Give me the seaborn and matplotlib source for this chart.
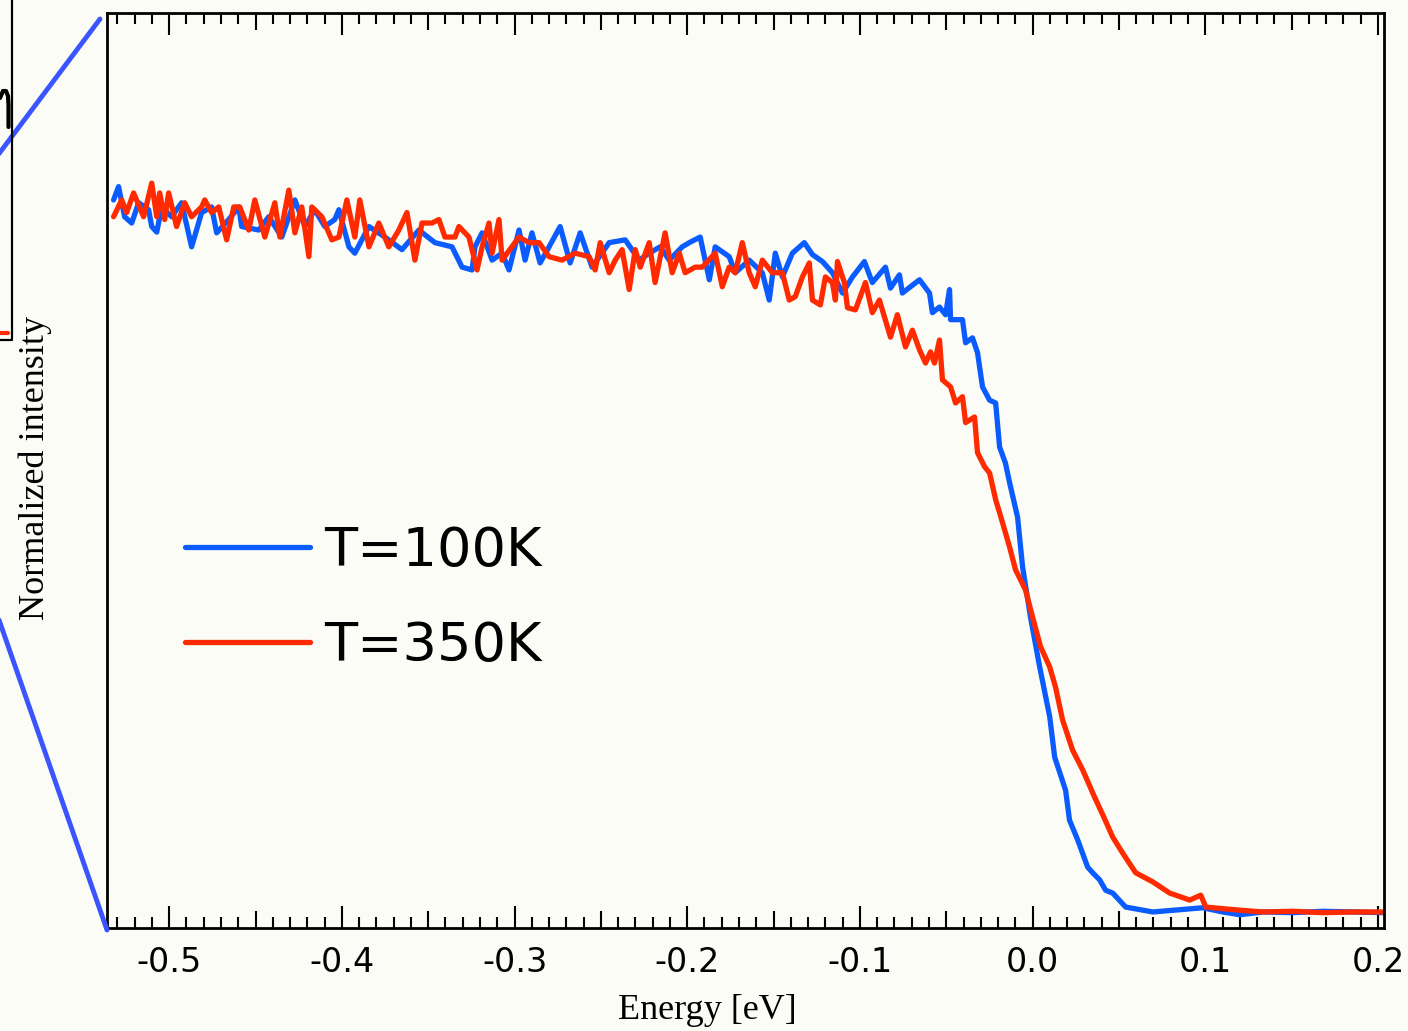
import numpy as np
import pandas as pd
import matplotlib
matplotlib.use("Agg")
import matplotlib.pyplot as plt
from matplotlib.lines import Line2D
from matplotlib.ticker import MultipleLocator, FuncFormatter
import seaborn as sns

# ---------------- data ----------------
energy_100K = [-0.5322, -0.5293, -0.5258, -0.5217, -0.5177, -0.5119, -0.5101, -0.5072, -0.5043, -0.4986,
               -0.4928, -0.4870, -0.4812, -0.4754, -0.4725, -0.4655, -0.4597, -0.4580, -0.4481, -0.4423,
               -0.4348, -0.4272, -0.4214, -0.4157, -0.4099, -0.4041, -0.4017, -0.3959, -0.3925, -0.3843,
               -0.3751, -0.3652, -0.3554, -0.3461, -0.3362, -0.3304, -0.3246, -0.3229, -0.3188, -0.3130,
               -0.3072, -0.3032, -0.2974, -0.2939, -0.2899, -0.2852, -0.2800, -0.2736, -0.2678, -0.2620,
               -0.2551, -0.2452, -0.2359, -0.2278, -0.2220, -0.2157, -0.2104, -0.2029, -0.1988, -0.1925,
               -0.1872, -0.1838, -0.1757, -0.1722, -0.1641, -0.1565, -0.1525, -0.1490, -0.1449, -0.1391,
               -0.1322, -0.1275, -0.1217, -0.1159, -0.1101, -0.1043, -0.0974, -0.0928, -0.0852, -0.0823,
               -0.0771, -0.0754, -0.0655, -0.0597, -0.0580, -0.0539, -0.0504, -0.0481, -0.0475, -0.0406,
               -0.0388, -0.0348, -0.0319, -0.0290, -0.0249, -0.0214, -0.0191, -0.0157, -0.0133, -0.0087,
               -0.0058, -0.0012, 0.0041, 0.0099, 0.0128, 0.0191, 0.0214, 0.0261, 0.0319, 0.0348,
               0.0388, 0.0423, 0.0464, 0.0539, 0.0696, 0.0841, 0.0986, 0.1101, 0.1200, 0.1333,
               0.1507, 0.1681, 0.1855, 0.2029]
intensity_100K = [1.017, 1.036, 0.993, 0.984, 1.013, 1.003, 0.979, 0.971, 1.007, 0.993,
                  1.013, 0.950, 0.999, 1.007, 0.970, 0.989, 1.007, 0.979, 0.974, 0.993,
                  0.964, 1.017, 0.979, 1.003, 0.979, 0.989, 1.003, 0.950, 0.941, 0.979,
                  0.964, 0.946, 0.974, 0.956, 0.950, 0.921, 0.917, 0.950, 0.970, 0.931,
                  0.941, 0.917, 0.974, 0.931, 0.970, 0.927, 0.950, 0.979, 0.927, 0.970,
                  0.921, 0.956, 0.960, 0.931, 0.941, 0.950, 0.931, 0.950, 0.956, 0.964,
                  0.903, 0.950, 0.936, 0.913, 0.931, 0.913, 0.874, 0.941, 0.907, 0.941,
                  0.956, 0.939, 0.929, 0.913, 0.884, 0.907, 0.929, 0.899, 0.921, 0.891,
                  0.910, 0.884, 0.903, 0.884, 0.856, 0.864, 0.853, 0.889, 0.846, 0.846,
                  0.813, 0.820, 0.799, 0.750, 0.731, 0.727, 0.664, 0.641, 0.613, 0.564,
                  0.493, 0.421, 0.350, 0.279, 0.221, 0.174, 0.131, 0.103, 0.064, 0.056,
                  0.046, 0.031, 0.027, 0.007, 0.000, 0.003, 0.006, 0.000, -0.004, 0.000,
                  -0.001, 0.001, 0.000, -0.001]

energy_350K = [-0.5322, -0.5275, -0.5246, -0.5206, -0.5148, -0.5101, -0.5072, -0.5055, -0.5026, -0.5003,
               -0.4957, -0.4910, -0.4870, -0.4812, -0.4794, -0.4754, -0.4713, -0.4667, -0.4626, -0.4591,
               -0.4539, -0.4504, -0.4446, -0.4388, -0.4359, -0.4307, -0.4272, -0.4232, -0.4191, -0.4174,
               -0.4116, -0.4058, -0.4017, -0.3971, -0.3925, -0.3896, -0.3843, -0.3786, -0.3728, -0.3670,
               -0.3623, -0.3577, -0.3536, -0.3478, -0.3438, -0.3403, -0.3345, -0.3322, -0.3264, -0.3217,
               -0.3188, -0.3148, -0.3130, -0.3090, -0.3072, -0.2974, -0.2916, -0.2858, -0.2800, -0.2725,
               -0.2649, -0.2568, -0.2533, -0.2504, -0.2452, -0.2417, -0.2377, -0.2336, -0.2301, -0.2272,
               -0.2220, -0.2186, -0.2128, -0.2087, -0.2046, -0.2012, -0.1954, -0.1913, -0.1838, -0.1797,
               -0.1757, -0.1722, -0.1681, -0.1641, -0.1606, -0.1565, -0.1507, -0.1449, -0.1409, -0.1374,
               -0.1333, -0.1293, -0.1275, -0.1229, -0.1200, -0.1159, -0.1142, -0.1130, -0.1090, -0.1072,
               -0.1026, -0.0968, -0.0928, -0.0887, -0.0823, -0.0783, -0.0736, -0.0696, -0.0655, -0.0620,
               -0.0591, -0.0568, -0.0539, -0.0522, -0.0475, -0.0446, -0.0406, -0.0388, -0.0336, -0.0319,
               -0.0278, -0.0249, -0.0214, -0.0174, -0.0133, -0.0099, -0.0041, 0.0000, 0.0046, 0.0099,
               0.0133, 0.0174, 0.0232, 0.0290, 0.0359, 0.0406, 0.0446, 0.0464, 0.0522, 0.0597,
               0.0696, 0.0794, 0.0910, 0.0974, 0.1003, 0.1177, 0.1333, 0.1507, 0.1681, 0.1855,
               0.2029]
intensity_350K = [0.993, 1.017, 0.999, 1.027, 0.993, 1.041, 0.993, 1.027, 0.989, 1.027,
                  0.979, 1.013, 0.993, 1.007, 1.017, 0.999, 1.007, 0.960, 1.007, 1.007,
                  0.974, 1.017, 0.964, 1.013, 0.964, 1.031, 0.970, 1.007, 0.936, 1.007,
                  0.993, 0.960, 0.964, 1.017, 0.964, 1.017, 0.950, 0.984, 0.950, 0.974,
                  0.999, 0.931, 0.984, 0.984, 0.989, 0.964, 0.964, 0.979, 0.964, 0.917,
                  0.950, 0.984, 0.941, 0.989, 0.931, 0.964, 0.956, 0.956, 0.936, 0.931,
                  0.941, 0.936, 0.917, 0.956, 0.913, 0.931, 0.946, 0.889, 0.946, 0.921,
                  0.956, 0.899, 0.970, 0.913, 0.941, 0.913, 0.921, 0.921, 0.941, 0.893,
                  0.921, 0.913, 0.956, 0.913, 0.893, 0.931, 0.913, 0.913, 0.874, 0.879,
                  0.907, 0.927, 0.874, 0.867, 0.907, 0.899, 0.874, 0.929, 0.899, 0.863,
                  0.860, 0.899, 0.856, 0.874, 0.821, 0.853, 0.807, 0.831, 0.803, 0.784,
                  0.800, 0.784, 0.817, 0.760, 0.750, 0.727, 0.736, 0.699, 0.707, 0.656,
                  0.636, 0.627, 0.589, 0.556, 0.521, 0.489, 0.460, 0.421, 0.379, 0.350,
                  0.321, 0.274, 0.231, 0.203, 0.164, 0.139, 0.117, 0.107, 0.084, 0.056,
                  0.043, 0.027, 0.017, 0.024, 0.007, 0.003, 0.000, 0.001, -0.001, 0.000,
                  0.000]

labels = ["T=100K", "T=350K"]

# ---------------- styling ----------------
BG = "#fbfcf5"
BLUE = "#0a5cff"
RED = "#ff2a00"
ZOOM_BLUE = "#3a55ff"

sns.set_theme(style="white")
plt.rcParams["font.family"] = ["DejaVu Sans"]
plt.rcParams["text.color"] = "black"

fig = plt.figure(figsize=(14.08, 10.31), dpi=100, facecolor=BG)
ax = fig.add_axes([107 / 1408, 1 - 928 / 1031, (1384 - 107) / 1408, (928 - 13) / 1031])
ax.set_facecolor(BG)

df = pd.concat([
    pd.DataFrame({"Energy": energy_100K, "Intensity": intensity_100K, "T": labels[0]}),
    pd.DataFrame({"Energy": energy_350K, "Intensity": intensity_350K, "T": labels[1]}),
], ignore_index=True)

sns.lineplot(data=df, x="Energy", y="Intensity", hue="T", palette=[BLUE, RED],
             estimator=None, sort=False, lw=3.8, ax=ax, legend=False)

ax.set_xlim(-0.536, 0.2035)
ax.set_ylim(-0.0229, 1.284)

for s in ax.spines.values():
    s.set_visible(True)
    s.set_color("black")
    s.set_linewidth(2.0)

# ticks: majors every 0.05 (labels only at 0.1), minors every 0.01
ax.xaxis.set_major_locator(MultipleLocator(0.05))
ax.xaxis.set_minor_locator(MultipleLocator(0.01))


def fmt(v, pos):
    k = round(v * 20)
    if k % 2 == 0:
        return f"{v:.1f}".replace("-0.0", "0.0")
    return ""


ax.xaxis.set_major_formatter(FuncFormatter(fmt))
ax.tick_params(axis="x", which="major", direction="in", top=True, bottom=True,
               length=15.8, width=1.5, color="black", labelsize=24, pad=13, labelcolor="black")
ax.tick_params(axis="x", which="minor", direction="in", top=True, bottom=True,
               length=7.9, width=1.5, color="black")
ax.set_yticks([])

fig.canvas.draw()
for t in ax.xaxis.get_major_ticks():
    v = t.get_loc()
    if round(v * 20) % 2 != 0:
        t.tick1line.set_markersize(12)
        t.tick2line.set_markersize(12)

ax.set_xlabel("Energy [eV]", fontsize=26, family="Liberation Serif", color="black")
ax.xaxis.label.set_va("center")
ax.xaxis.set_label_coords(0.47, -0.0897)
ax.set_ylabel("Normalized intensity", fontsize=26, family="Liberation Serif", color="black")
ax.yaxis.label.set_va("center")
ax.yaxis.label.set_ha("center")
ax.yaxis.set_label_coords(-0.056, 0.503)

handles = [Line2D([], [], color=BLUE, lw=3.8), Line2D([], [], color=RED, lw=3.8)]
ax.legend(handles, labels, loc="upper left", bbox_to_anchor=(0.0611, 0.440),
          frameon=False, fontsize=39, handlelength=2.3, handletextpad=0.27,
          labelspacing=0.78, borderpad=0, borderaxespad=0, labelcolor="black")

# fragments of a neighbouring panel at the left edge
fig.add_artist(Line2D([100 / 1408, -2 / 1408], [1 - 19 / 1031, 1 - 155 / 1031],
                      color=ZOOM_BLUE, lw=3.5, transform=fig.transFigure))
fig.add_artist(Line2D([-2 / 1408, 107 / 1408], [1 - 617 / 1031, 1 - 930 / 1031],
                      color=ZOOM_BLUE, lw=3.5, transform=fig.transFigure))
fig.add_artist(Line2D([12 / 1408, 12 / 1408, 0], [1.0, 1 - 340 / 1031, 1 - 340 / 1031],
                      color="black", lw=1.6, transform=fig.transFigure))
fig.add_artist(Line2D([0, 8 / 1408], [1 - 333 / 1031, 1 - 333 / 1031],
                      color=RED, lw=3, transform=fig.transFigure))
# right leg of a cut-off handwritten "n"
fig.add_artist(Line2D([0, 3 / 1408, 6 / 1408, 8 / 1408, 8.5 / 1408, 8.5 / 1408],
                      [1 - 98 / 1031, 1 - 91 / 1031, 1 - 91 / 1031, 1 - 96 / 1031,
                       1 - 105 / 1031, 1 - 127 / 1031],
                      color="black", lw=3, transform=fig.transFigure,
                      solid_capstyle="round", solid_joinstyle="round"))

fig.savefig("out.png", dpi=100, facecolor=BG)
